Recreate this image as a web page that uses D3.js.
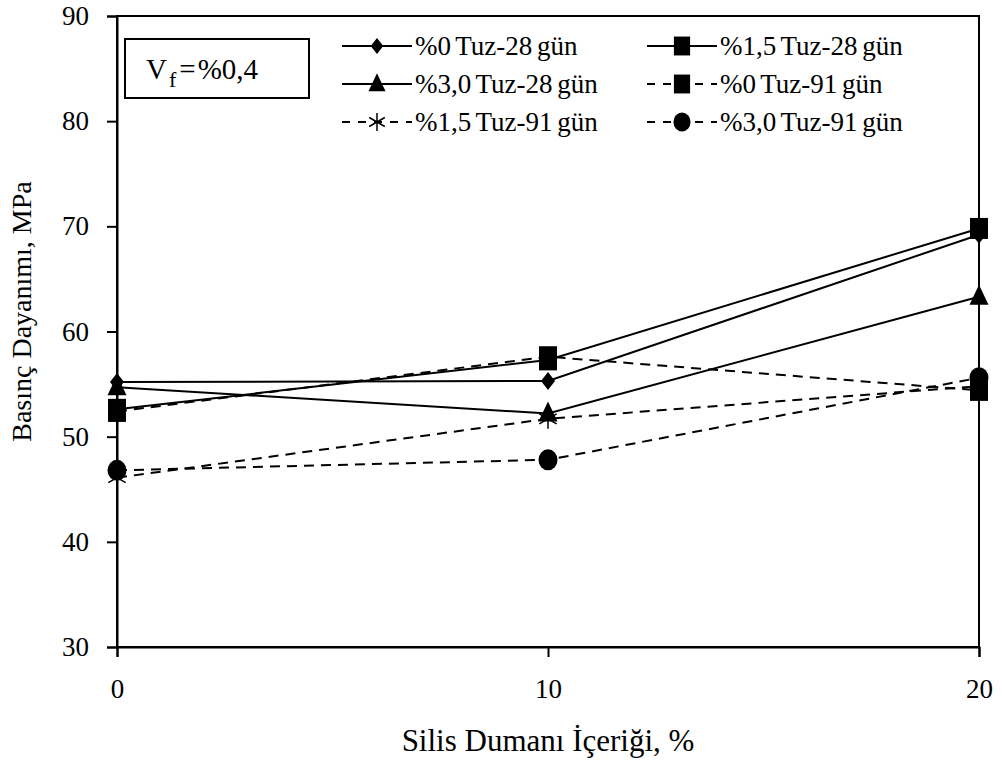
<!DOCTYPE html>
<html>
<head>
<meta charset="utf-8">
<script src="https://cdn.jsdelivr.net/npm/d3@7"></script>
<style>
  html, body { margin: 0; padding: 0; background: #fff; }
  svg text { font-family: "Liberation Serif", "Times New Roman", serif; fill: #000; }
</style>
</head>
<body>
<svg id="chart" width="1002" height="765"></svg>
<script>
// Silica fume content (%) on the x axis
const silica = [0, 10, 20];

// Compressive strength (MPa) per series
const tuz0_28  = [55.2, 55.3, 69.2];
const tuz15_28 = [52.6, 57.3, 69.8];
const tuz30_28 = [54.7, 52.2, 63.3];
const tuz0_91  = [52.4, 57.6, 54.4];
const tuz15_91 = [46.1, 51.7, 54.8];
const tuz30_91 = [46.8, 47.8, 55.6];

const seriesNames = ["%0 Tuz-28 gün", "%1,5 Tuz-28 gün", "%3,0 Tuz-28 gün",
                     "%0 Tuz-91 gün", "%1,5 Tuz-91 gün", "%3,0 Tuz-91 gün"];
const seriesValues = [tuz0_28, tuz15_28, tuz30_28, tuz0_91, tuz15_91, tuz30_91];
const seriesMarkers = ["diamond", "square", "triangle", "square", "asterisk", "circle"];
const seriesDashed = [false, false, false, true, true, true];

const yTicks = [30, 40, 50, 60, 70, 80, 90];
const xTicks = [0, 10, 20];

const svg = d3.select("#chart");
const plotL = 117, plotR = 979, plotT = 16, plotB = 647;

const x = d3.scaleLinear().domain([0, 20]).range([plotL, plotR]);
const y = d3.scaleLinear().domain([30, 90]).range([plotB, plotT]);

// plot frame
svg.append("rect")
  .attr("x", plotL).attr("y", plotT)
  .attr("width", plotR - plotL).attr("height", plotB - plotT)
  .attr("fill", "none").attr("stroke", "#000").attr("stroke-width", 2);

// y axis
const yAxis = svg.append("g")
  .attr("transform", `translate(${plotL},0)`)
  .call(d3.axisLeft(y).tickValues(yTicks).tickSize(10).tickPadding(18));
yAxis.select(".domain").attr("stroke-width", 2);
yAxis.selectAll(".tick line").attr("stroke-width", 2);
yAxis.selectAll(".tick text")
  .style("font-size", "27px").style("font-family", "Liberation Serif");

// x axis
const xAxis = svg.append("g")
  .attr("transform", `translate(0,${plotB})`)
  .call(d3.axisBottom(x).tickValues(xTicks).tickSize(10).tickPadding(22));
xAxis.select(".domain").attr("stroke-width", 2);
xAxis.selectAll(".tick line").attr("stroke-width", 2);
xAxis.selectAll(".tick text")
  .style("font-size", "27px").style("font-family", "Liberation Serif");

// axis titles
svg.append("text")
  .attr("x", (plotL + plotR) / 2).attr("y", 751)
  .attr("text-anchor", "middle")
  .style("font-size", "31px")
  .text("Silis Dumanı İçeriği, %");

svg.append("text")
  .attr("transform", `translate(31,${(plotT + plotB) / 2 - 20}) rotate(-90)`)
  .attr("text-anchor", "middle")
  .style("font-size", "28px")
  .text("Basınç Dayanımı, MPa");

// marker drawing
function marker(g, type, cx, cy, s) {
  const k = s || 1;
  if (type === "diamond") {
    g.append("path")
      .attr("d", `M${cx},${cy - 9 * k}L${cx + 7 * k},${cy}L${cx},${cy + 9 * k}L${cx - 7 * k},${cy}Z`)
      .attr("fill", "#000");
  } else if (type === "square") {
    g.append("rect")
      .attr("x", cx - 9 * k).attr("y", cy - 10.5 * k)
      .attr("width", 18 * k).attr("height", 21 * k)
      .attr("fill", "#000");
  } else if (type === "triangle") {
    g.append("path")
      .attr("d", `M${cx},${cy - 12 * k}L${cx + 9.5 * k},${cy + 8 * k}L${cx - 9.5 * k},${cy + 8 * k}Z`)
      .attr("fill", "#000");
  } else if (type === "circle") {
    g.append("ellipse")
      .attr("cx", cx).attr("cy", cy)
      .attr("rx", 9.5 * k).attr("ry", 10.5 * k)
      .attr("fill", "#000");
  } else if (type === "asterisk") {
    const r = 10 * k;
    const path = d3.path();
    [90, 30, 150].forEach(a => {
      const rad = a * Math.PI / 180;
      path.moveTo(cx - r * Math.cos(rad), cy - r * Math.sin(rad));
      path.lineTo(cx + r * Math.cos(rad), cy + r * Math.sin(rad));
    });
    g.append("path").attr("d", path.toString())
      .attr("stroke", "#000").attr("stroke-width", 1.5).attr("fill", "none");
  }
}

const line = d3.line().x((d, i) => x(silica[i])).y(d => y(d));

seriesValues.forEach((vals, si) => {
  const g = svg.append("g");
  g.append("path")
    .datum(vals)
    .attr("d", line)
    .attr("fill", "none")
    .attr("stroke", "#000")
    .attr("stroke-width", 2)
    .attr("stroke-dasharray", seriesDashed[si] ? "10,7" : null);
  vals.forEach((v, i) => marker(g, seriesMarkers[si], x(silica[i]), y(v)));
});

// fibre volume note
svg.append("rect")
  .attr("x", 125).attr("y", 39).attr("width", 184).attr("height", 59)
  .attr("fill", "#fff").attr("stroke", "#000").attr("stroke-width", 2);
const vf = svg.append("text").attr("x", 146).attr("y", 79).style("font-size", "29px");
vf.append("tspan").text("V");
vf.append("tspan").attr("dy", 8).attr("dx", 2).style("font-size", "22px").text("f");
vf.append("tspan").attr("dy", -8).attr("dx", 3).text("=");
vf.append("tspan").attr("dx", 2).text("%0,4");

// legend
const legendCols = [342, 647];
const legendRows = [46, 84, 122];
seriesNames.forEach((name, si) => {
  const col = si % 2, row = Math.floor(si / 2);
  const x0 = legendCols[col], yy = legendRows[row];
  const g = svg.append("g");
  g.append("line")
    .attr("x1", x0).attr("x2", x0 + 70)
    .attr("y1", yy).attr("y2", yy)
    .attr("stroke", "#000").attr("stroke-width", 2)
    .attr("stroke-dasharray", seriesDashed[si] ? "8,8" : null);
  marker(g, seriesMarkers[si], x0 + 35, yy, 0.9);
  g.append("text")
    .attr("x", x0 + 73).attr("y", yy + 9)
    .style("font-size", "27px")
    .style("word-spacing", "-2px")
    .text(name);
});
</script>
</body>
</html>
